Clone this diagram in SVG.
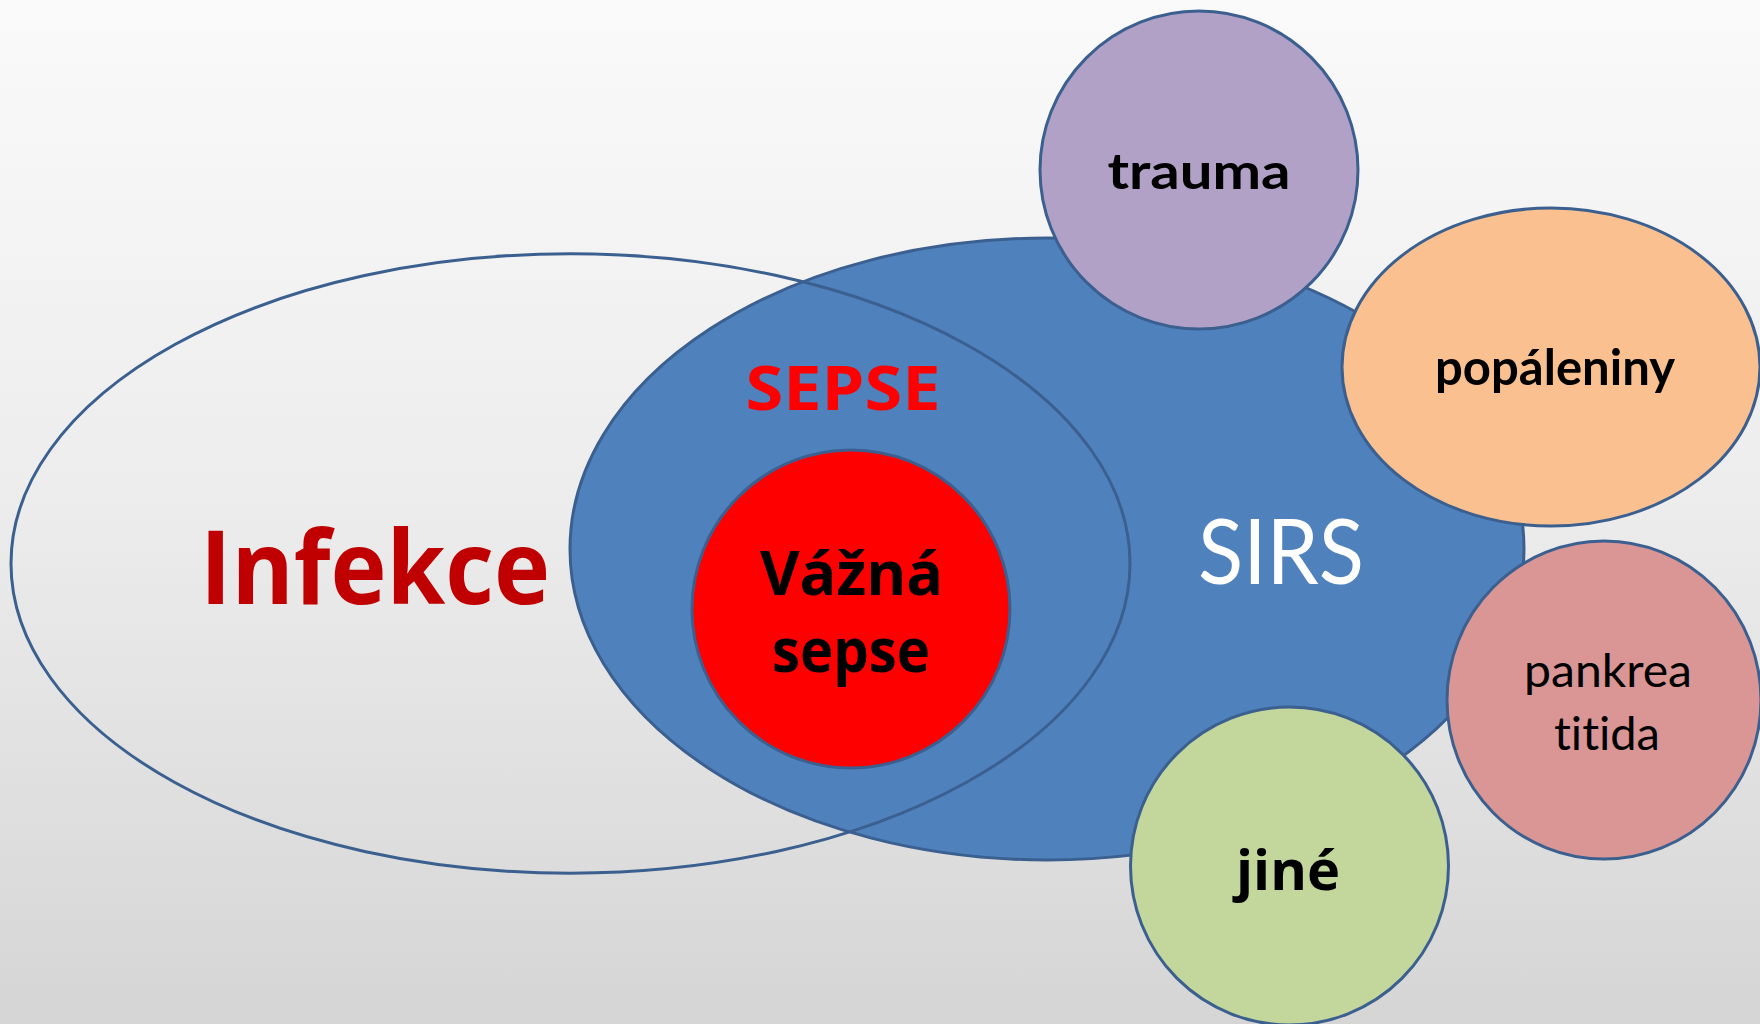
<svg xmlns="http://www.w3.org/2000/svg" width="1760" height="1024" viewBox="0 0 1760 1024">
<defs>
<linearGradient id="bg" x1="0" y1="0" x2="0" y2="1">
<stop offset="0" stop-color="#fafafa"/>
<stop offset="0.5" stop-color="#ececec"/>
<stop offset="1" stop-color="#d5d5d5"/>
</linearGradient>
<style>
.o{stroke:#3b6090;stroke-width:3}
.b{font-family:"Open Sans","DejaVu Sans",sans-serif;font-weight:700;text-anchor:middle}
.g{font-family:Lato,"Open Sans",sans-serif;text-anchor:middle;font-variant-ligatures:none}
</style>
</defs>
<rect width="1760" height="1024" fill="url(#bg)"/>
<g id="sirs">
<ellipse class="o" cx="1047" cy="549" rx="477" ry="311" fill="#4f81bd"/>
<text class="g" x="1281" y="584" font-size="92" fill="#ffffff" textLength="166" lengthAdjust="spacingAndGlyphs">SIRS</text>
</g>
<g id="infekce">
<ellipse class="o" cx="570.5" cy="563.5" rx="559.5" ry="309.7" fill="none"/>
<text class="b" x="375" y="604" font-size="102" fill="#c00000" textLength="350" lengthAdjust="spacingAndGlyphs">Infekce</text>
</g>
<g id="sepse">
<text class="b" x="843" y="410" font-size="60" fill="#ff0000" textLength="195" lengthAdjust="spacingAndGlyphs">SEPSE</text>
</g>
<g id="vazna-sepse">
<circle class="o" cx="851" cy="609" r="159" fill="#ff0000"/>
<text class="b" x="851.5" y="595" font-size="60" fill="#000000" textLength="183" lengthAdjust="spacingAndGlyphs">Vážná</text>
<text class="b" x="851" y="672" font-size="60" fill="#000000" textLength="158" lengthAdjust="spacingAndGlyphs">sepse</text>
</g>
<g id="trauma">
<circle class="o" cx="1199" cy="170" r="159" fill="#b2a1c7"/>
<text class="g" x="1199" y="189" font-size="50" font-weight="700" fill="#000000" textLength="183" lengthAdjust="spacingAndGlyphs">trauma</text>
</g>
<g id="popaleniny">
<ellipse class="o" cx="1551" cy="367" rx="209" ry="159" fill="#fac090"/>
<text class="g" x="1555" y="385" font-size="50" font-weight="700" fill="#000000" textLength="240" lengthAdjust="spacingAndGlyphs">popáleniny</text>
</g>
<g id="pankreatitida">
<ellipse class="o" cx="1604" cy="700" rx="157" ry="159" fill="#d99694"/>
<text class="g" x="1608" y="687" font-size="47" fill="#000000" textLength="168" lengthAdjust="spacingAndGlyphs">pankrea</text>
<text class="g" x="1607" y="750" font-size="47" fill="#000000" textLength="106" lengthAdjust="spacingAndGlyphs">titida</text>
</g>
<g id="jine">
<circle class="o" cx="1289.5" cy="866" r="159" fill="#c3d69b"/>
<text class="b" x="1288" y="890" font-size="56" fill="#000000" textLength="104" lengthAdjust="spacingAndGlyphs">jiné</text>
</g>
<g id="connectors"/>
</svg>
